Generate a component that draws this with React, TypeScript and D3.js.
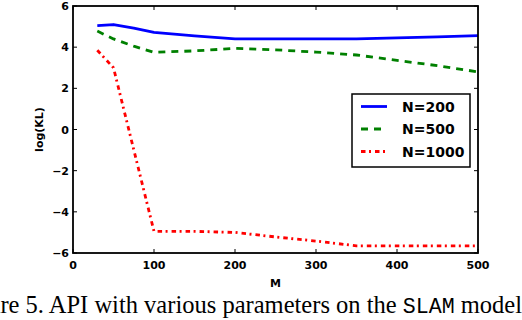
import React, { useLayoutEffect, useRef, useState } from "react";
import * as d3 from "d3";

const mValues = [30, 50, 75, 100, 150, 200, 250, 300, 350, 400, 450, 500];
const n200 = [5.05, 5.1, 4.93, 4.72, 4.55, 4.4, 4.4, 4.4, 4.4, 4.45, 4.5, 4.56];
const n500 = [4.78, 4.4, 4.05, 3.75, 3.82, 3.94, 3.87, 3.76, 3.62, 3.36, 3.1, 2.8];
const n1000 = [3.85, 3.0, -0.98, -4.95, -4.95, -5.0, -5.22, -5.42, -5.65, -5.65, -5.65, -5.65];
const seriesNames = ["N=200", "N=500", "N=1000"];
const xTicks = [0, 100, 200, 300, 400, 500];
const yTicks = [-6, -4, -2, 0, 2, 4, 6];

const W = 522;
const H = 320;
const left = 73, right = 478, top = 6, bottom = 253;

export default function App() {
  const capRef = useRef<SVGTextElement>(null);
  const [capSize, setCapSize] = useState(22);

  useLayoutEffect(() => {
    const el = capRef.current;
    if (!el) return;
    const total = el.getComputedTextLength();
    let prefix = 0;
    try {
      prefix = el.getSubStringLength(0, 4);
    } catch (e) {
      prefix = 0;
    }
    const visible = total - prefix;
    const target = 522;
    if (visible > 0 && Math.abs(visible - target) > 1) {
      setCapSize((s) => (s * target) / visible);
    }
  }, [capSize]);

  const x = d3.scaleLinear().domain([0, 500]).range([left, right]);
  const y = d3.scaleLinear().domain([-6, 6]).range([bottom, top]);
  const line = d3
    .line<[number, number]>()
    .x((d) => x(d[0]))
    .y((d) => y(d[1]));

  const series = [
    { name: seriesNames[0], vals: n200, color: "#0000ff", dash: "none" },
    { name: seriesNames[1], vals: n500, color: "#008000", dash: "7,6" },
    { name: seriesNames[2], vals: n1000, color: "#ff0000", dash: "4.5,3.5,2,4" },
  ];
  const tickFont = "'DejaVu Sans', sans-serif";

  return (
    <svg
      width={W}
      height={H}
      style={{ position: "fixed", left: 0, top: 0, background: "#fff" }}
    >
      <rect x={0} y={0} width={W} height={H} fill="#fff" />
      {series.map((s) => (
        <path
          key={s.name}
          d={line(mValues.map((m, i) => [m, s.vals[i]] as [number, number])) || ""}
          fill="none"
          stroke={s.color}
          strokeWidth={2.8}
          strokeDasharray={s.dash}
          strokeLinejoin="round"
        />
      ))}
      {/* frame */}
      <rect x={left} y={top} width={right - left} height={bottom - top} fill="none" stroke="#000" strokeWidth={1.8} />
      {/* ticks */}
      {xTicks.map((t) => (
        <g key={"x" + t}>
          <line x1={x(t)} x2={x(t)} y1={bottom} y2={bottom - 4} stroke="#000" strokeWidth={1} />
          <line x1={x(t)} x2={x(t)} y1={top} y2={top + 4} stroke="#000" strokeWidth={1} />
          <text
            x={x(t)}
            y={269}
            textAnchor="middle"
            fontFamily={tickFont}
            fontWeight="bold"
            fontSize={11}
            fill="#000"
          >
            {t}
          </text>
        </g>
      ))}
      {yTicks.map((t) => (
        <g key={"y" + t}>
          <line x1={left} x2={left + 4} y1={y(t)} y2={y(t)} stroke="#000" strokeWidth={1} />
          <line x1={right} x2={right - 4} y1={y(t)} y2={y(t)} stroke="#000" strokeWidth={1} />
          <text
            x={69}
            y={y(t) + 4}
            textAnchor="end"
            fontFamily={tickFont}
            fontWeight="bold"
            fontSize={11}
            fill="#000"
          >
            {t < 0 ? "\u2212" + Math.abs(t) : String(t)}
          </text>
        </g>
      ))}
      <text x={(left + right) / 2} y={287} textAnchor="middle" fontFamily={tickFont} fontWeight="bold" fontSize={11}>
        M
      </text>
      <text
        transform={`translate(43,${(top + bottom) / 2}) rotate(-90)`}
        textAnchor="middle"
        fontFamily={tickFont}
        fontWeight="bold"
        fontSize={11}
      >
        log(KL)
      </text>
      {/* legend */}
      <rect x={352} y={94} width={118} height={73} fill="#fff" stroke="#000" strokeWidth={1.5} />
      {series.map((s, i) => {
        const ly = 106.5 + i * 22.5;
        return (
          <g key={"leg" + s.name}>
            <line x1={361} x2={387} y1={ly} y2={ly} stroke={s.color} strokeWidth={2.8} strokeDasharray={s.dash} />
            <text x={402} y={ly + 5} fontFamily={tickFont} fontWeight="bold" fontSize={14} fill="#000">
              {s.name}
            </text>
          </g>
        );
      })}
      {/* caption */}
      <text
        ref={capRef}
        x={522}
        y={313}
        textAnchor="end"
        fontFamily="'Liberation Serif', 'Times New Roman', serif"
        fontSize={capSize}
        fill="#000"
      >
        Figure 5. API with various parameters on the{" "}
        <tspan fontFamily="'Liberation Mono', 'DejaVu Sans Mono', monospace" fontSize={capSize * 0.88}>SLAM</tspan> model
      </text>
    </svg>
  );
}
